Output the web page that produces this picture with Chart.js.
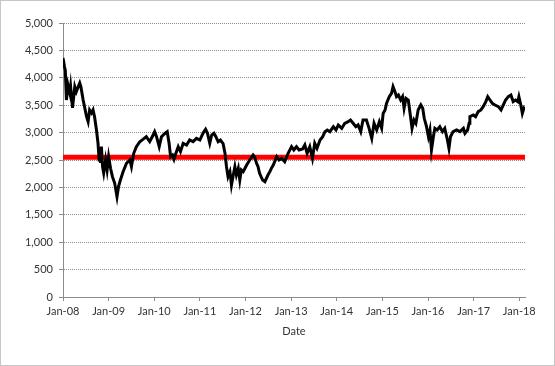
<!DOCTYPE html>
<html>
<head>
<meta charset="utf-8">
<script src="https://cdn.jsdelivr.net/npm/chart.js@4/dist/chart.umd.min.js"></script>
<style>
  html, body { margin: 0; padding: 0; background: #fff; }
  #wrap { width: 555px; height: 366px; }
</style>
</head>
<body>
<div id="wrap"><canvas id="myLineChart" width="555" height="366"></canvas></div>
<script>
// months since Jan-2008 (x) and index level (y)
var monthsSinceJan08 = [
  0.0, 0.4, 0.6, 0.9, 1.3, 1.8, 2.0, 2.5, 3.1, 3.5, 4.4, 4.7, 5.3, 6.2, 6.6, 7.0, 7.5, 7.9, 8.3, 8.8,
  9.2, 9.5, 9.7, 9.9, 10.1, 10.4, 10.7, 11.2, 11.6, 12.0, 12.5, 13.0, 13.6, 14.2, 14.6, 15.1, 15.8, 16.7, 17.6, 18.0,
  18.6, 19.3, 20.2, 21.1, 21.9, 22.8, 23.7, 24.1, 24.6, 25.3, 25.9, 26.8, 27.4, 27.9, 28.3, 28.8, 29.2, 29.7, 30.3, 30.9,
  31.6, 32.5, 33.3, 34.2, 35.1, 36.0, 36.8, 37.5, 38.0, 38.6, 39.1, 39.7, 40.2, 40.8, 41.4, 42.1, 42.6, 43.0, 43.4, 43.9,
  44.3, 44.7, 45.2, 45.6, 46.1, 46.5, 46.9, 47.4, 48.3, 49.1, 50.0, 50.4, 50.9, 51.3, 51.7, 52.5, 53.1, 53.9, 54.4, 54.8,
  55.3, 56.2, 56.8, 57.5, 58.3, 59.2, 60.1, 60.7, 61.4, 62.1, 63.0, 63.6, 64.2, 64.9, 65.6, 66.2, 66.8, 67.6, 68.3, 68.9,
  69.5, 70.2, 71.1, 71.8, 72.4, 73.3, 74.1, 75.0, 75.6, 76.3, 77.0, 77.6, 78.3, 78.9, 79.8, 80.5, 81.2, 81.8, 82.5, 83.2,
  83.8, 84.2, 84.7, 85.1, 85.8, 86.4, 86.8, 87.3, 87.7, 88.2, 88.8, 89.3, 89.7, 90.2, 90.8, 91.4, 91.8, 92.3, 92.8, 93.4,
  94.1, 94.6, 95.0, 95.6, 96.1, 96.5, 96.9, 97.4, 97.8, 98.4, 99.1, 99.8, 100.4, 101.1, 101.5, 101.9, 102.6, 103.5, 104.4, 105.3,
  105.7, 106.4, 106.8, 107.0, 107.9, 108.5, 109.2, 109.9, 110.5, 111.2, 111.7, 112.3, 112.9, 113.6, 114.5, 115.2, 115.8, 116.4, 117.1, 117.8,
  118.4, 119.0, 119.6, 119.9, 120.4, 120.8, 121.2, 121.5
];
var indexValues = [
  4362, 4200, 4140, 3595, 3870, 3720, 3838, 3450, 3838, 3747, 3905, 3838, 3595, 3290, 3200, 3413, 3358, 3413, 3290, 3048,
  2810, 2500, 2683, 2445, 2743, 2378, 2263, 2500, 2318, 2560, 2348, 2196, 2075, 1830, 2013, 2135, 2287, 2440, 2500, 2378,
  2622, 2743, 2834, 2880, 2925, 2834, 2956, 3017, 2925, 2743, 2925, 2987, 3017, 2805, 2560, 2591, 2513, 2622, 2743, 2652,
  2805, 2774, 2865, 2834, 2895, 2865, 2987, 3060, 2987, 2805, 2956, 2987, 2925, 2834, 2865, 2800, 2622, 2378, 2196, 2287,
  2044, 2196, 2378, 2226, 2348, 2135, 2318, 2287, 2409, 2500, 2591, 2560, 2440, 2378, 2257, 2135, 2104, 2226, 2287, 2348,
  2409, 2560, 2500, 2530, 2470, 2622, 2743, 2683, 2743, 2683, 2700, 2774, 2622, 2743, 2530, 2805, 2713, 2865, 2925, 3017,
  3048, 3017, 3108, 3048, 3139, 3078, 3170, 3200, 3230, 3170, 3108, 3139, 3017, 3230, 3230, 3078, 2895, 3170, 3048, 3200,
  3080, 3350, 3413, 3535, 3656, 3717, 3838, 3747, 3656, 3686, 3595, 3656, 3443, 3626, 3595, 3290, 3078, 3230, 3170, 3413,
  3504, 3443, 3261, 3108, 2925, 3048, 2683, 2925, 3078, 3048, 3108, 3017, 3078, 2865, 2713, 2925, 3017, 3048, 3017, 3078,
  2987, 3048, 3170, 3290, 3322, 3290, 3382, 3413, 3474, 3565, 3656, 3595, 3535, 3504, 3474, 3413, 3504, 3595, 3656, 3686,
  3565, 3595, 3565, 3656, 3504, 3352, 3443, 3413
];
var thresholdValue = 2550;
var yTicks = [0, 500, 1000, 1500, 2000, 2500, 3000, 3500, 4000, 4500, 5000];
var xTickYears = ['08', '09', '10', '11', '12', '13', '14', '15', '16', '17', '18'];

var lastMonth = monthsSinceJan08[monthsSinceJan08.length - 1];
var linePoints = monthsSinceJan08.map(function (m, i) { return { x: m, y: indexValues[i] }; });

var frame = {
  id: 'frame',
  beforeDraw: function (chart) {
    var c = chart.ctx;
    c.save();
    c.fillStyle = '#fff';
    c.fillRect(0, 0, chart.width, chart.height);
    c.strokeStyle = '#8c8c8c';
    c.setLineDash([1, 1]);
    c.lineWidth = 1;
    c.strokeRect(0.5, 0.5, chart.width - 1, chart.height - 1);
    c.restore();
  }
};

var ctx = document.getElementById('myLineChart').getContext('2d');
var myLineChart = new Chart(ctx, {
  type: 'line',
  data: {
    datasets: [{
      label: 'Index',
      data: linePoints,
      borderColor: '#000',
      borderWidth: 3,
      pointRadius: 0,
      tension: 0,
      order: 1
    }, {
      label: 'Threshold',
      data: [{ x: 0, y: thresholdValue }, { x: lastMonth, y: thresholdValue }],
      borderColor: '#ff0000',
      borderWidth: 5,
      pointRadius: 0,
      order: 2
    }]
  },
  plugins: [frame],
  options: {
    responsive: false,
    animation: false,
    events: [],
    layout: { padding: { top: 23, right: 30, bottom: 0, left: 0 } },
    plugins: { legend: { display: false }, tooltip: { enabled: false } },
    scales: {
      x: {
        type: 'linear',
        min: 0,
        max: lastMonth,
        afterFit: function (scale) { scale.height = 69; },
        afterBuildTicks: function (scale) {
          scale.ticks = xTickYears.map(function (y, i) { return { value: i * 12 }; });
        },
        ticks: {
          autoSkip: false,
          maxRotation: 0,
          padding: 4,
          color: '#333',
          font: { family: 'Lato', size: 11 },
          callback: function (v) { return 'Jan-' + xTickYears[Math.round(v / 12)]; }
        },
        grid: { drawOnChartArea: false, drawTicks: true, tickLength: 4, color: '#8c8c8c' },
        border: { color: '#8c8c8c', dash: [1, 1] },
        title: {
          display: true,
          text: 'Date',
          color: '#333',
          font: { family: 'Lato', size: 11 },
          padding: { top: 0, bottom: 28 }
        }
      },
      y: {
        min: 0,
        max: 5000,
        afterFit: function (scale) { scale.width = 63; },
        afterBuildTicks: function (scale) {
          scale.ticks = yTicks.map(function (v) { return { value: v }; });
        },
        ticks: {
          padding: 6,
          color: '#333',
          font: { family: 'Lato', size: 11 },
          callback: function (v) { return v.toLocaleString('en-US'); }
        },
        grid: { color: '#8c8c8c', tickLength: 4 },
        border: { color: '#8c8c8c', dash: [1, 1] }
      }
    }
  }
});
</script>
</body>
</html>
